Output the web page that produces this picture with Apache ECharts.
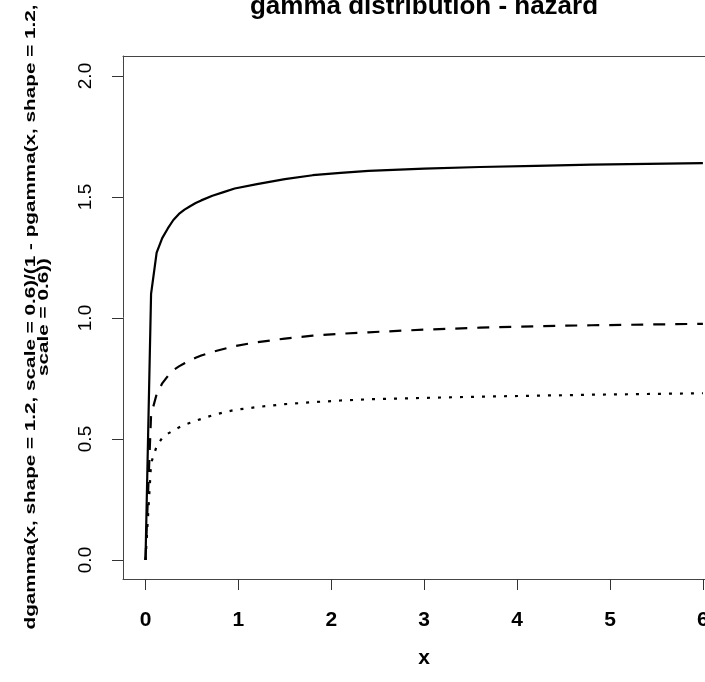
<!DOCTYPE html>
<html>
<head>
<meta charset="utf-8">
<script src="https://cdn.jsdelivr.net/npm/echarts@6/dist/echarts.min.js"></script>
<style>html,body{margin:0;padding:0;background:#fff}#c{width:705px;height:682px}</style>
</head>
<body>
<div id="c"></div>
<script>
var titleText = 'gamma distribution - hazard';
var xName = 'x';
var yNameLine1 = 'dgamma(x, shape = 1.2, scale = 0.6)/(1 - pgamma(x, shape = 1.2,';
var yNameLine2 = 'scale = 0.6))';
var xTickStep = 1;
var yTickStep = 0.5;
var xRange = [0, 6];
var yRange = [0, 2];
var xs = [0, 0.06, 0.12, 0.18, 0.24, 0.3, 0.36, 0.42, 0.48, 0.54, 0.6, 0.72, 0.84, 0.96, 1.2, 1.5, 1.8, 2.1, 2.4, 3.0, 3.6, 4.2, 4.8, 5.4, 6.0];
var ySolid = [0, 1.10, 1.27, 1.33, 1.37, 1.405, 1.43, 1.448, 1.462, 1.475, 1.486, 1.505, 1.52, 1.535, 1.553, 1.574, 1.590, 1.600, 1.608, 1.617, 1.624, 1.629, 1.634, 1.637, 1.640];
var yDashed = [0, 0.60, 0.685, 0.73, 0.76, 0.785, 0.80, 0.813, 0.825, 0.836, 0.845, 0.860, 0.872, 0.884, 0.900, 0.915, 0.927, 0.935, 0.941, 0.952, 0.960, 0.966, 0.970, 0.973, 0.976];
var yDotted = [0, 0.40, 0.47, 0.505, 0.522, 0.535, 0.548, 0.559, 0.567, 0.575, 0.583, 0.598, 0.610, 0.620, 0.632, 0.644, 0.652, 0.659, 0.664, 0.670, 0.675, 0.679, 0.683, 0.686, 0.689];

function pairs(ys) { return xs.map(function (x, i) { return [x, ys[i]]; }); }

var chart = echarts.init(document.getElementById('c'), null, {renderer: 'canvas'});
var FONT = 'Liberation Sans, Arial, sans-serif';
var boxLine = {show: true, onZero: false, lineStyle: {color: '#444', width: 1}};
var tickStyle = {show: true, inside: false, length: 11, lineStyle: {color: '#333', width: 1}};
chart.setOption({
  animation: false,
  backgroundColor: '#fff',
  grid: [
    {left: 145.5, top: 76, width: 557.4, height: 484, show: false, containLabel: false, outerBoundsMode: 'none'},
    {left: 123, top: 56, width: 582, height: 523, show: false, containLabel: false, outerBoundsMode: 'none'}
  ],
  xAxis: [{
    gridIndex: 0, type: 'value', min: xRange[0], max: xRange[1], interval: xTickStep, position: 'bottom', offset: 19,
    axisLine: {show: false, onZero: false},
    splitLine: {show: false},
    axisTick: tickStyle,
    axisLabel: {show: true, margin: 31, hideOverlap: false, fontFamily: FONT, fontSize: 21, fontWeight: 'bold', color: '#000',
      formatter: function (v) { return String(v); }}
  }, {
    gridIndex: 1, type: 'value', min: 0, max: 1, position: 'bottom',
    axisLine: boxLine, axisTick: {show: false}, axisLabel: {show: false}, splitLine: {show: false}
  }, {
    gridIndex: 1, type: 'value', min: 0, max: 1, position: 'top',
    axisLine: boxLine, axisTick: {show: false}, axisLabel: {show: false}, splitLine: {show: false}
  }],
  yAxis: [{
    gridIndex: 0, type: 'value', min: yRange[0], max: yRange[1], interval: yTickStep, position: 'left', offset: 22.5,
    axisLine: {show: false, onZero: false},
    splitLine: {show: false},
    axisTick: tickStyle,
    axisLabel: {show: true, rotate: 90, margin: 28, fontFamily: FONT, fontSize: 19, color: '#000',
      formatter: function (v) { return v.toFixed(1); }}
  }, {
    gridIndex: 1, type: 'value', min: 0, max: 1, position: 'left',
    axisLine: boxLine, axisTick: {show: false}, axisLabel: {show: false}, splitLine: {show: false}
  }],
  graphic: [
    {type: 'text', x: 424, y: 7, style: {text: titleText, fontFamily: FONT, fontSize: 26, fontWeight: 'bold', fill: '#000', textAlign: 'center', textVerticalAlign: 'middle'}},
    {type: 'text', x: 424, y: 658, style: {text: xName, fontFamily: FONT, fontSize: 21, fontWeight: 'bold', fill: '#000', textAlign: 'center', textVerticalAlign: 'middle'}},
    {type: 'text', x: 31, y: 317, rotation: Math.PI / 2, scaleY: 0.7, style: {text: yNameLine1, fontFamily: FONT, fontSize: 20.7, fontWeight: 'bold', fill: '#000', textAlign: 'center', textVerticalAlign: 'middle'}},
    {type: 'text', x: 44, y: 317, rotation: Math.PI / 2, scaleY: 0.7, style: {text: yNameLine2, fontFamily: FONT, fontSize: 20.7, fontWeight: 'bold', fill: '#000', textAlign: 'center', textVerticalAlign: 'middle'}}
  ],
  series: [
    {type: 'line', xAxisIndex: 0, yAxisIndex: 0, data: pairs(ySolid), showSymbol: false, symbol: 'none', color: '#000', lineStyle: {color: '#000', width: 2.2, type: 'solid'}, clip: false},
    {type: 'line', xAxisIndex: 0, yAxisIndex: 0, data: pairs(yDashed), showSymbol: false, symbol: 'none', color: '#000', lineStyle: {color: '#000', width: 2.2, type: [12, 10]}, clip: false},
    {type: 'line', xAxisIndex: 0, yAxisIndex: 0, data: pairs(yDotted), showSymbol: false, symbol: 'none', color: '#000', lineStyle: {color: '#000', width: 2.2, type: [3, 8]}, clip: false}
  ]
});
</script>
</body>
</html>
